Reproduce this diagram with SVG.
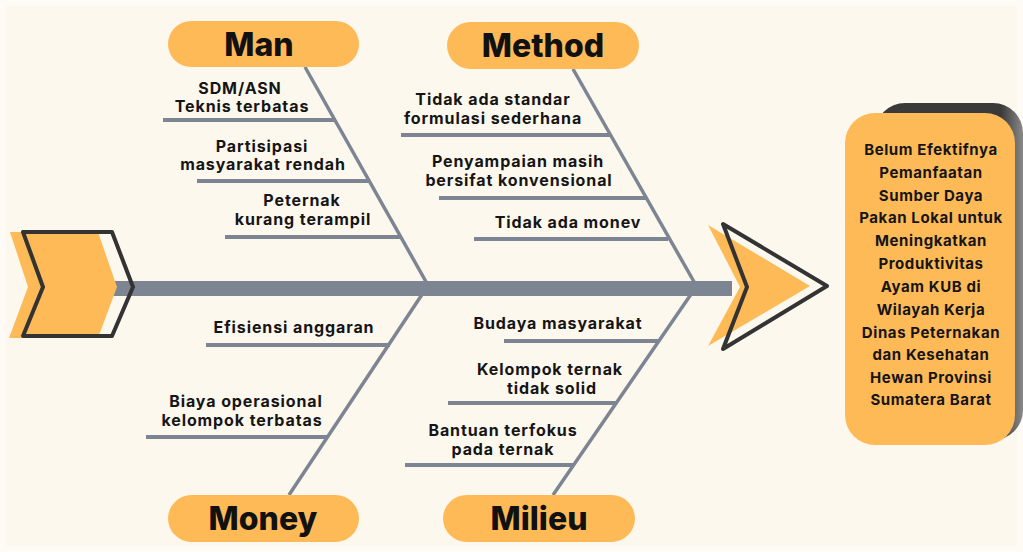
<svg xmlns="http://www.w3.org/2000/svg" width="1023" height="552" viewBox="0 0 1023 552">
<defs>
<linearGradient id="sh" x1="0" y1="0" x2="1" y2="0">
<stop offset="0" stop-color="#3a3a3a"/><stop offset="0.85" stop-color="#3a3a3a"/><stop offset="1" stop-color="#8a8a8a"/>
</linearGradient>
<style>
.pill{fill:#FFBA58}
.hd{font-family:Inter,"Liberation Sans",sans-serif;font-weight:800;font-size:32px;fill:#111;text-anchor:middle}
.t{font-family:Inter,"Liberation Sans",sans-serif;font-weight:700;font-size:16px;letter-spacing:0.9px;fill:#151515;text-anchor:middle}
.e{font-family:Inter,"Liberation Sans",sans-serif;font-weight:700;font-size:15px;letter-spacing:0.6px;fill:#151515;text-anchor:middle}
.bone{stroke:#7D8592;stroke-width:3.5;fill:none;stroke-linecap:butt}
.rib{stroke:#7D8592;stroke-width:4;fill:none}
.out{fill:none;stroke:#333;stroke-width:4;stroke-linejoin:round}
.or{fill:#FFBA58}
</style>
</defs>
<rect width="1023" height="552" fill="#FDF8EE"/>
<rect x="0" y="0" width="1023" height="552" fill="none" stroke="#FEFBF6" stroke-width="12"/>

<g id="connectors">
<line class="bone" x1="305" y1="67" x2="429" y2="287"/>
<line class="bone" x1="573" y1="69" x2="697" y2="287"/>
<line class="bone" x1="289" y1="495" x2="427" y2="287"/>
<line class="bone" x1="553" y1="495" x2="696" y2="287"/>
<line class="rib" x1="163" y1="120" x2="335" y2="120"/>
<line class="rib" x1="197" y1="181" x2="369" y2="181"/>
<line class="rib" x1="225" y1="237" x2="400" y2="237"/>
<line class="rib" x1="401" y1="135" x2="610" y2="135"/>
<line class="rib" x1="439" y1="198" x2="647" y2="198"/>
<line class="rib" x1="474" y1="239" x2="668" y2="239"/>
<line class="rib" x1="206" y1="345" x2="390" y2="345"/>
<line class="rib" x1="146" y1="437" x2="328" y2="437"/>
<line class="rib" x1="504" y1="341" x2="658" y2="341"/>
<line class="rib" x1="448" y1="403" x2="617" y2="403"/>
<line class="rib" x1="405" y1="465" x2="573" y2="465"/>
<rect x="112" y="281" width="620" height="15" fill="#7D8592"/>
</g>

<g id="tail">
<polygon class="or" points="10,232 98,232 117,287 98,338 9,338 28,287"/>
<polygon class="out" points="23,232 112,232 133,287 112,336 23,336 43,287"/>
</g>

<g id="head">
<polygon class="or" points="708,225 810,286 708,346 740,287"/>
<polygon class="out" points="723,224 827,286 723,349 747,287"/>
</g>

<g id="man">
<rect class="pill" x="168" y="21" width="191" height="46" rx="23"/>
<text class="hd" x="259" y="56">Man</text>
<text class="t" x="240" y="94">SDM/ASN</text>
<text class="t" x="242" y="112">Teknis terbatas</text>
<text class="t" x="262" y="152">Partisipasi</text>
<text class="t" x="263" y="170">masyarakat rendah</text>
<text class="t" x="302" y="206">Peternak</text>
<text class="t" x="303" y="225">kurang terampil</text>
</g>

<g id="method">
<rect class="pill" x="447" y="22" width="192" height="47" rx="23.5"/>
<text class="hd" x="543" y="57">Method</text>
<text class="t" x="493" y="105">Tidak ada standar</text>
<text class="t" x="493" y="124">formulasi sederhana</text>
<text class="t" x="518" y="167">Penyampaian masih</text>
<text class="t" x="519" y="186">bersifat konvensional</text>
<text class="t" x="568" y="228">Tidak ada monev</text>
</g>

<g id="money">
<rect class="pill" x="168" y="495" width="191" height="47" rx="23.5"/>
<text class="hd" x="263" y="530">Money</text>
<text class="t" x="294" y="333">Efisiensi anggaran</text>
<text class="t" x="246" y="407">Biaya operasional</text>
<text class="t" x="242" y="426">kelompok terbatas</text>
</g>

<g id="milieu">
<rect class="pill" x="443" y="495" width="192" height="47" rx="23.5"/>
<text class="hd" x="539" y="530">Milieu</text>
<text class="t" x="558" y="329">Budaya masyarakat</text>
<text class="t" x="550" y="375">Kelompok ternak</text>
<text class="t" x="552" y="394">tidak solid</text>
<text class="t" x="503" y="436">Bantuan terfokus</text>
<text class="t" x="503" y="455">pada ternak</text>
</g>

<g id="effect">
<rect x="875" y="103" width="148" height="337" rx="30" fill="url(#sh)"/>
<rect x="845" y="113" width="170" height="332" rx="30" fill="#FFBA58"/>
<text class="e" x="931" y="155">Belum Efektifnya</text>
<text class="e" x="931" y="178">Pemanfaatan</text>
<text class="e" x="931" y="201">Sumber Daya</text>
<text class="e" x="931" y="223">Pakan Lokal untuk</text>
<text class="e" x="931" y="246">Meningkatkan</text>
<text class="e" x="931" y="269">Produktivitas</text>
<text class="e" x="931" y="292">Ayam KUB di</text>
<text class="e" x="931" y="315">Wilayah Kerja</text>
<text class="e" x="931" y="338">Dinas Peternakan</text>
<text class="e" x="931" y="360">dan Kesehatan</text>
<text class="e" x="931" y="383">Hewan Provinsi</text>
<text class="e" x="931" y="405">Sumatera Barat</text>
</g>
</svg>
